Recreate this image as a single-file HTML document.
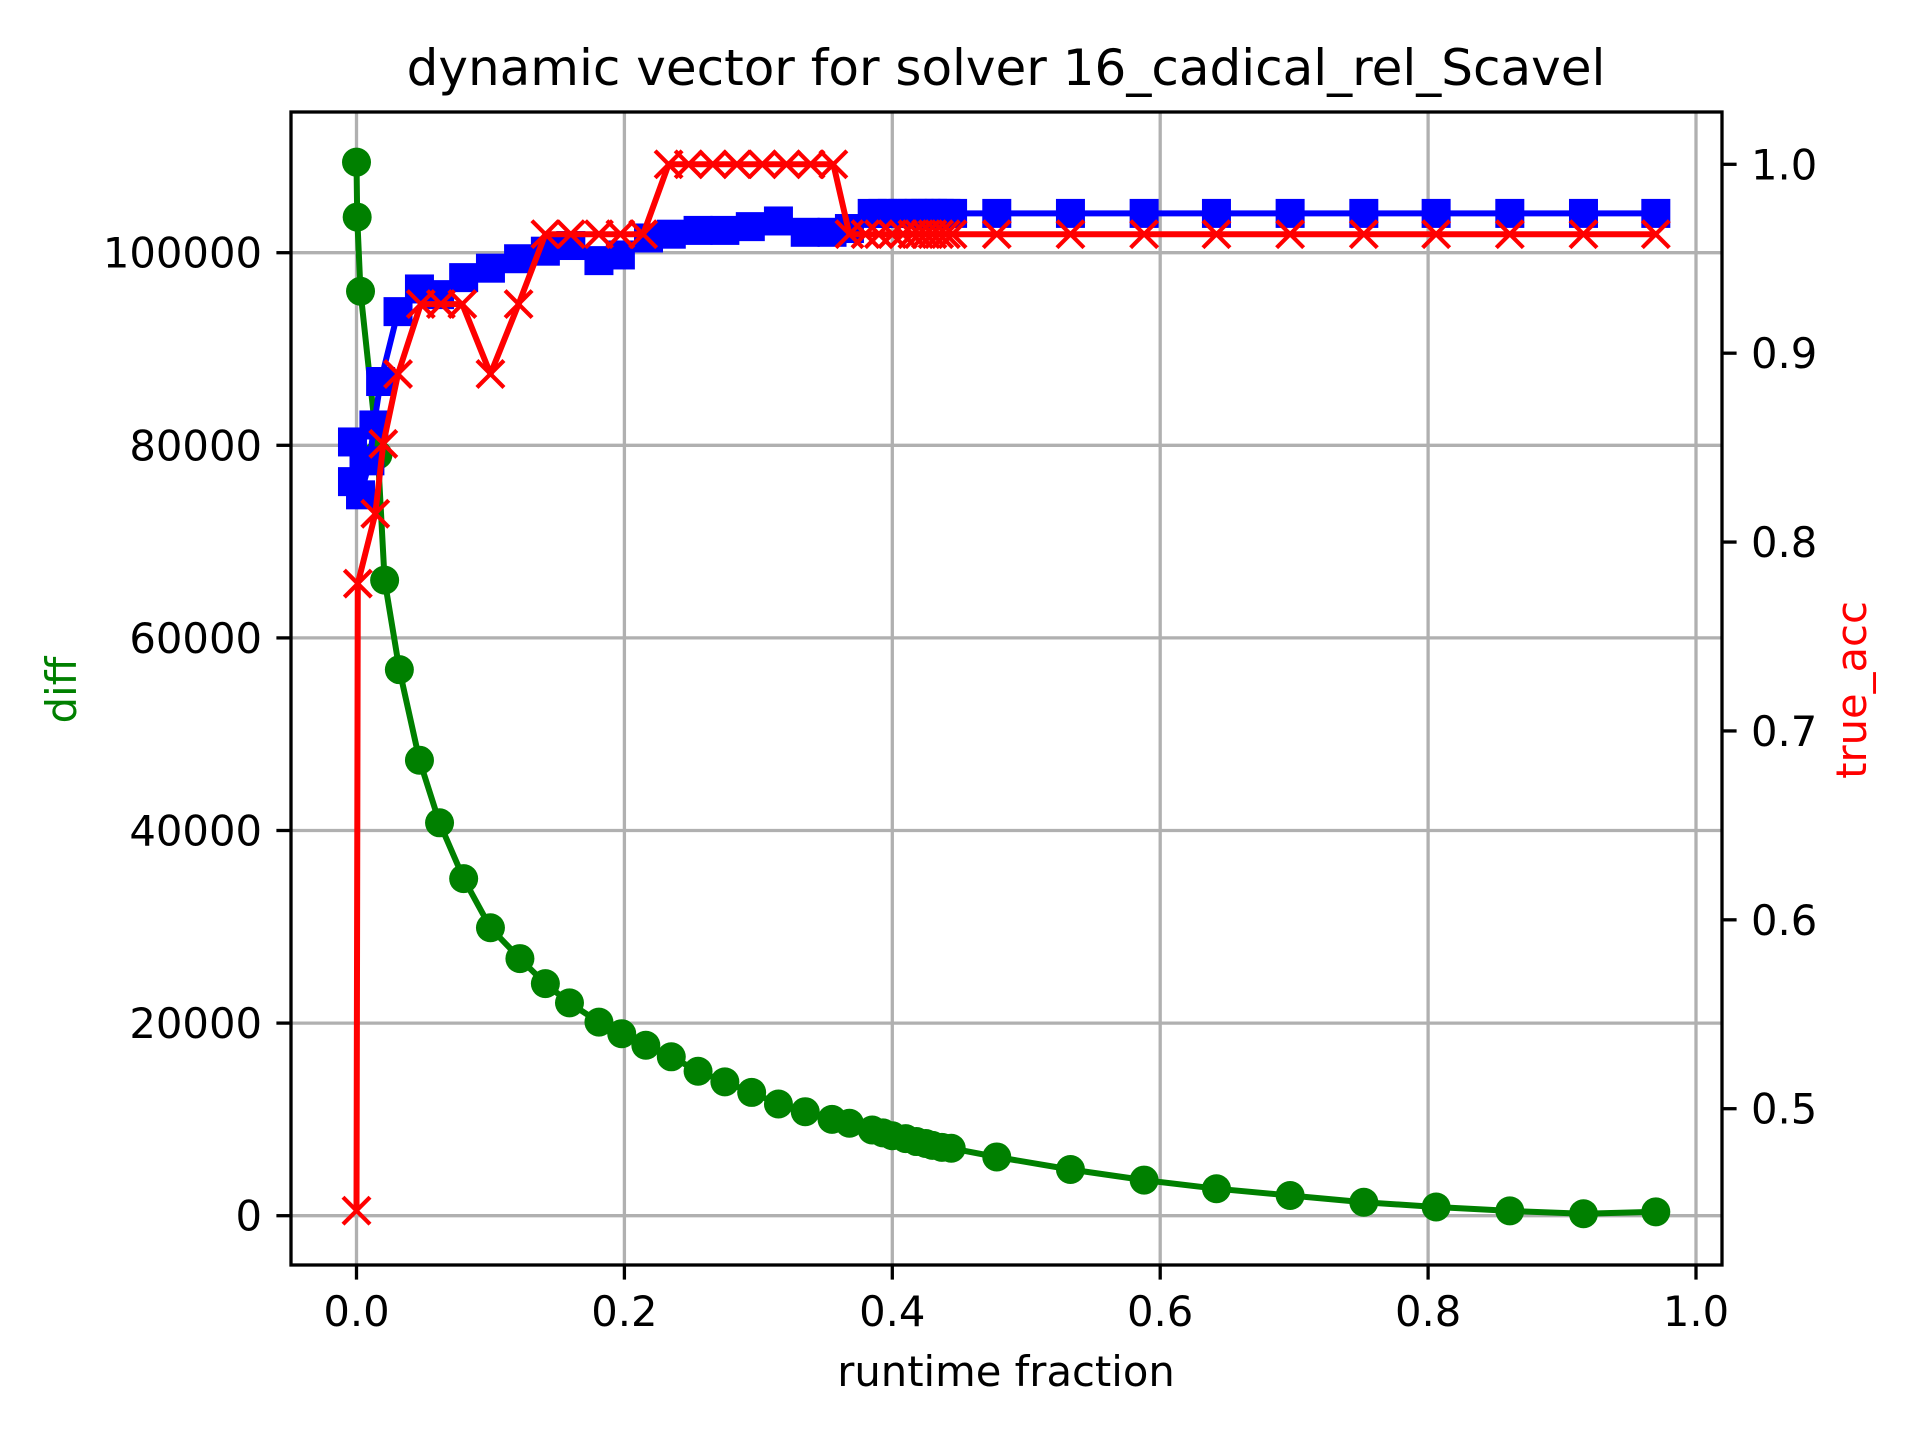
<!DOCTYPE html>
<html><head><meta charset="utf-8"><title>dynamic vector</title>
<style>html,body{margin:0;padding:0;background:#fff}svg{display:block}text{font-family:"DejaVu Sans","Liberation Sans",sans-serif}</style>
</head><body>
<svg id="chart" width="1920" height="1440" viewBox="0 0 1920 1440" xmlns="http://www.w3.org/2000/svg">
<rect x="0" y="0" width="1920" height="1440" fill="#fff"/>
<g id="grid"></g>
<g id="series"></g>
<g id="axes"></g>
<text x="1006" y="85" font-size="50" text-anchor="middle">dynamic vector for solver 16_cadical_rel_Scavel</text>
<text x="1006" y="1386" font-size="41.7" text-anchor="middle">runtime fraction</text>
<text x="0" y="0" font-size="41.7" text-anchor="middle" fill="green" transform="translate(76,690) rotate(-90)">diff</text>
<text x="0" y="0" font-size="41.7" text-anchor="middle" fill="red" transform="translate(1866,690) rotate(-90)">true_acc</text>
</svg>
<script>
const xTicks = [0.0, 0.2, 0.4, 0.6, 0.8, 1.0];
const xTickLabels = ["0.0", "0.2", "0.4", "0.6", "0.8", "1.0"];
const leftTicks = [0, 20000, 40000, 60000, 80000, 100000];
const leftTickLabels = ["0", "20000", "40000", "60000", "80000", "100000"];
const rightTicks = [0.5, 0.6, 0.7, 0.8, 0.9, 1.0];
const rightTickLabels = ["0.5", "0.6", "0.7", "0.8", "0.9", "1.0"];

const diffX = [0,0.0005,0.003,0.016,0.021,0.032,0.047,0.062,0.08,0.1,0.122,0.141,0.159,0.181,0.198,0.216,0.235,0.255,0.275,0.295,0.315,0.335,0.355,0.368,0.385,0.393,0.4,0.41,0.418,0.425,0.43,0.437,0.444,0.478,0.533,0.588,0.642,0.697,0.752,0.806,0.861,0.916,0.97];
const diffY = [109400,103700,96000,79000,66000,56700,47300,40800,35000,29900,26700,24100,22100,20100,18900,17700,16500,15000,13900,12800,11600,10800,10000,9600,8900,8600,8300,8000,7700,7500,7300,7100,7000,6100,4800,3700,2800,2100,1400,900,500,200,400];

const predX = [-0.003,-0.003,0.003,0.01,0.013,0.018,0.031,0.047,0.062,0.08,0.1,0.121,0.141,0.16,0.181,0.197,0.218,0.235,0.255,0.275,0.294,0.315,0.335,0.355,0.368,0.385,0.393,0.4,0.408,0.415,0.42,0.425,0.43,0.435,0.44,0.445,0.478,0.533,0.588,0.642,0.697,0.752,0.806,0.861,0.916,0.97];
const predY = [0.853,0.832,0.825,0.843,0.862,0.885,0.922,0.934,0.931,0.940,0.945,0.950,0.954,0.957,0.949,0.952,0.961,0.963,0.965,0.965,0.967,0.970,0.964,0.964,0.966,0.974,0.974,0.974,0.974,0.974,0.974,0.974,0.974,0.974,0.974,0.974,0.974,0.974,0.974,0.974,0.974,0.974,0.974,0.974,0.974,0.974];

const accX = [0,0.001,0.014,0.02,0.031,0.048,0.063,0.079,0.1,0.121,0.141,0.16,0.181,0.197,0.214,0.233,0.248,0.266,0.284,0.303,0.321,0.339,0.356,0.368,0.38,0.39,0.4,0.408,0.415,0.42,0.425,0.43,0.435,0.44,0.445,0.478,0.533,0.588,0.642,0.697,0.752,0.806,0.861,0.916,0.97];
const accY = [0.446,0.778,0.815,0.852,0.889,0.926,0.926,0.926,0.889,0.926,0.963,0.963,0.963,0.963,0.963,1.0,1.0,1.0,1.0,1.0,1.0,1.0,1.0,0.963,0.963,0.963,0.963,0.963,0.963,0.963,0.963,0.963,0.963,0.963,0.963,0.963,0.963,0.963,0.963,0.963,0.963,0.963,0.963,0.963,0.963];

const NS = "http://www.w3.org/2000/svg";
const L = 291, R = 1722, T = 112, B = 1265;
function sx(v){ return 356.5 + v * 1339.5; }
function syL(v){ return 1215.7 - v * 0.00963; }
function syR(v){ return 164.3 + (1.0 - v) * 1888.8; }
function mk(tag, attrs, parent){
  const e = document.createElementNS(NS, tag);
  for (const k in attrs) e.setAttribute(k, attrs[k]);
  parent.appendChild(e);
  return e;
}
const grid = document.getElementById('grid');
const series = document.getElementById('series');
const axes = document.getElementById('axes');

xTicks.forEach((t, i) => {
  const X = sx(t);
  const g = mk('line', {x1:X, x2:X, y1:T, y2:B, stroke:'#b0b0b0', 'stroke-width':3.3}, grid);
  
  
  const tk = mk('line', {x1:X, x2:X, y1:B, y2:B+14.6, stroke:'#000', 'stroke-width':3.3}, axes);
  
  
  const tx = mk('text', {x:X, y:1326, 'font-size':41.7, 'text-anchor':'middle'}, axes);
  tx.textContent = xTickLabels[i];
  
  
});
leftTicks.forEach((t, i) => {
  const Y = syL(t);
  const g = mk('line', {x1:L, x2:R, y1:Y, y2:Y, stroke:'#b0b0b0', 'stroke-width':3.3}, grid);
  
  
  const tk = mk('line', {x1:L-14.6, x2:L, y1:Y, y2:Y, stroke:'#000', 'stroke-width':3.3}, axes);
  
  
  const tx = mk('text', {x:L-29, y:Y+15, 'font-size':41.7, 'text-anchor':'end'}, axes);
  tx.textContent = leftTickLabels[i];
  
  
});
rightTicks.forEach((t, i) => {
  const Y = syR(t);
  const tk = mk('line', {x1:R, x2:R+14.6, y1:Y, y2:Y, stroke:'#000', 'stroke-width':3.3}, axes);
  
  
  const tx = mk('text', {x:R+29, y:Y+15, 'font-size':41.7, 'text-anchor':'start'}, axes);
  tx.textContent = rightTickLabels[i];
  
  
});
const frame = mk('rect', {x:L, y:T, width:R-L, height:B-T, fill:'none', stroke:'#000', 'stroke-width':3.3}, axes);



function pts(xs, ys, fy){ return xs.map((x, i) => sx(x).toFixed(1) + ',' + fy(ys[i]).toFixed(1)).join(' '); }

const gl = mk('polyline', {points:pts(diffX, diffY, syL), fill:'none', stroke:'green', 'stroke-width':6, 'stroke-linejoin':'round'}, series);


diffX.forEach((x, i) => {
  const c = mk('circle', {cx:sx(x), cy:syL(diffY[i]), r:14.5, fill:'green'}, series);
  
  
});
const bl = mk('polyline', {points:pts(predX, predY, syR), fill:'none', stroke:'blue', 'stroke-width':6, 'stroke-linejoin':'round'}, series);


predX.forEach((x, i) => {
  const s = mk('rect', {x:sx(x)-14.5, y:syR(predY[i])-14.5, width:29, height:29, fill:'blue'}, series);
  
  
});
const rl = mk('polyline', {points:pts(accX, accY, syR), fill:'none', stroke:'red', 'stroke-width':6, 'stroke-linejoin':'round'}, series);


accX.forEach((x, i) => {
  const X = sx(x), Y = syR(accY[i]), h = 13.5;
  const p = mk('path', {d:`M${X-h},${Y-h}L${X+h},${Y+h}M${X-h},${Y+h}L${X+h},${Y-h}`, stroke:'red', 'stroke-width':4.2, fill:'none'}, series);
  
  
});
</script>
</body></html>
